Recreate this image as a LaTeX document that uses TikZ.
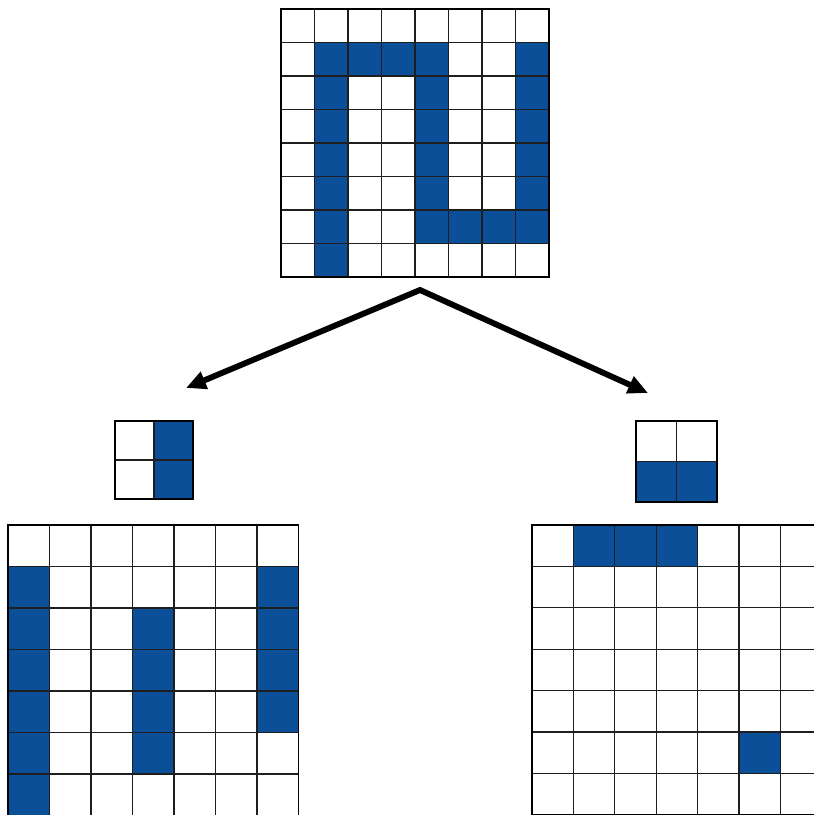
\documentclass[tikz,border=0pt]{standalone}
\usepackage{xcolor}
\definecolor{cCell}{HTML}{0B4F99}
\definecolor{cLine}{HTML}{1E1E1E}
\usetikzlibrary{arrows.meta}
\tikzset{
  cell-on/.style={fill=cCell},
  grid-line/.style={draw=cLine,line width=1pt},
  grid-frame/.style={draw=black,line width=1.3pt},
  arrow-split/.style={{Triangle[length=17pt,width=15pt]}-{Triangle[length=17pt,width=15pt]},
    line width=5pt,line join=miter,draw=black},
}

\begin{document}
\begin{tikzpicture}[x=0.03cm,y=-0.03cm]
  \useasboundingbox (0,0) rectangle (813,815);

  % input image 8x8
  \begin{scope}[shift={(281,9)},scale=33.5]
    \foreach \r in {1,...,7} \fill[cell-on] (1,\r) rectangle ++(1,1);
    \foreach \r in {1,...,6} \fill[cell-on] (4,\r) rectangle ++(1,1) (7,\r) rectangle ++(1,1);
    \foreach \c/\r in {2/1,3/1,5/6,6/6} \fill[cell-on] (\c,\r) rectangle ++(1,1);
    \foreach \i in {1,...,7} \draw[grid-line] (\i,0) -- (\i,8) (0,\i) -- (8,\i);
    \draw[grid-frame] (0,0) rectangle (8,8);
  \end{scope}

  % split arrows
  \coordinate (split) at (420,290);
  \coordinate (vert-tip) at (186,388);
  \coordinate (horz-tip) at (648,393);
  \draw[arrow-split] (vert-tip) -- (split) -- (horz-tip);

  % vertical kernel 2x2
  \begin{scope}[shift={(115,421)},scale=39]
    \fill[cell-on] (1,0) rectangle (2,2);
    \draw[grid-line] (1,0) -- (1,2) (0,1) -- (2,1);
    \draw[grid-frame] (0,0) rectangle (2,2);
  \end{scope}

  % horizontal kernel 2x2
  \begin{scope}[shift={(636,421)},scale=40.5]
    \fill[cell-on] (0,1) rectangle (2,2);
    \draw[grid-line] (1,0) -- (1,2) (0,1) -- (2,1);
    \draw[grid-frame] (0,0) rectangle (2,2);
  \end{scope}

  % vertical feature map 7x7
  \begin{scope}[shift={(8,525)},scale=41.5]
    \foreach \r in {1,...,6} \fill[cell-on] (0,\r) rectangle ++(1,1);
    \foreach \r in {2,...,5} \fill[cell-on] (3,\r) rectangle ++(1,1);
    \foreach \r in {1,...,4} \fill[cell-on] (6,\r) rectangle ++(1,1);
    \foreach \i in {1,...,6} \draw[grid-line] (\i,0) -- (\i,7) (0,\i) -- (7,\i);
    \draw[grid-frame] (0,0) rectangle (7,7);
  \end{scope}

  % horizontal feature map 7x7
  \begin{scope}[shift={(532,525)},scale=41.4]
    \foreach \c/\r in {1/0,2/0,3/0,5/5} \fill[cell-on] (\c,\r) rectangle ++(1,1);
    \foreach \i in {1,...,6} \draw[grid-line] (\i,0) -- (\i,7) (0,\i) -- (7,\i);
    \draw[grid-frame] (0,0) rectangle (7,7);
  \end{scope}
\end{tikzpicture}
\end{document}
